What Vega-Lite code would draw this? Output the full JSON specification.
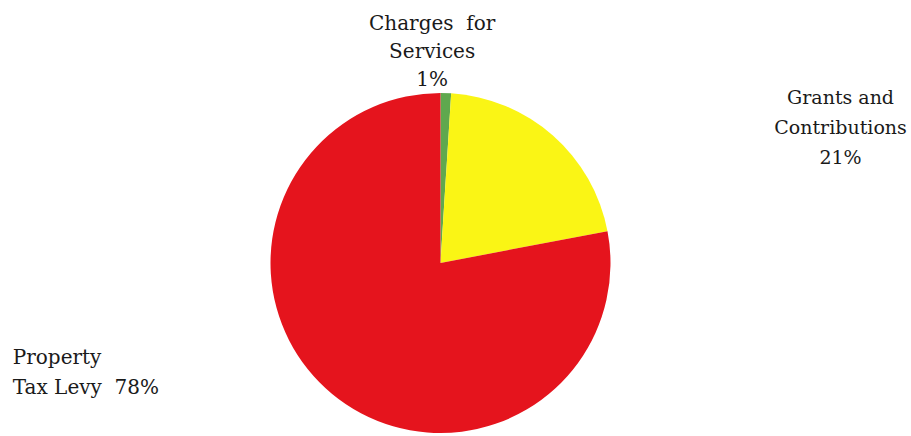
{
  "$schema": "https://vega.github.io/schema/vega-lite/v6.json",
  "width": 881,
  "height": 346,
  "autosize": {"type": "none"},
  "padding": {"top": 90, "left": 0, "right": 30, "bottom": 0},
  "background": "white",
  "config": {"view": {"stroke": null}, "font": "DejaVu Serif"},
  "data": {
    "values": [
      {"cat": "Charges for Services", "pct": 1, "order": 1, "label": ["Charges\u00a0 for", "Services", "1%"]},
      {"cat": "Grants and Contributions", "pct": 21, "order": 2, "label": ["Grants and", "Contributions", "21%"]},
      {"cat": "Property Tax Levy", "pct": 78, "order": 3, "label": ["Property", "Tax Levy\u00a0 78%"]}
    ]
  },
  "encoding": {
    "theta": {"field": "pct", "type": "quantitative", "stack": true},
    "order": {"field": "order", "type": "quantitative"}
  },
  "layer": [
    {
      "mark": {"type": "arc", "outerRadius": 170, "stroke": null},
      "encoding": {
        "color": {
          "field": "cat",
          "type": "nominal",
          "scale": {
            "domain": ["Charges for Services", "Grants and Contributions", "Property Tax Levy"],
            "range": ["#5FA84E", "#FAF515", "#E5141D"]
          },
          "legend": null
        }
      }
    },
    {
      "mark": {"type": "text", "radius": 180, "font": "DejaVu Serif", "fontSize": 20, "lineHeight": 28, "align": "center", "baseline": "middle", "dx": -14, "dy": -59, "color": "#1a1a1a"},
      "encoding": {
        "text": {"condition": {"test": "datum.order === 1", "field": "label"}, "value": ""}
      }
    },
    {
      "mark": {"type": "text", "radius": 180, "font": "DejaVu Serif", "fontSize": 19, "lineHeight": 30, "align": "center", "baseline": "middle", "dx": 281, "dy": -30, "color": "#1a1a1a"},
      "encoding": {
        "text": {"condition": {"test": "datum.order === 2", "field": "label"}, "value": ""}
      }
    },
    {
      "mark": {"type": "text", "radius": 180, "font": "DejaVu Serif", "fontSize": 20, "lineHeight": 30, "align": "left", "baseline": "middle", "dx": -313, "dy": -44, "color": "#1a1a1a"},
      "encoding": {
        "text": {"condition": {"test": "datum.order === 3", "field": "label"}, "value": ""}
      }
    }
  ]
}
